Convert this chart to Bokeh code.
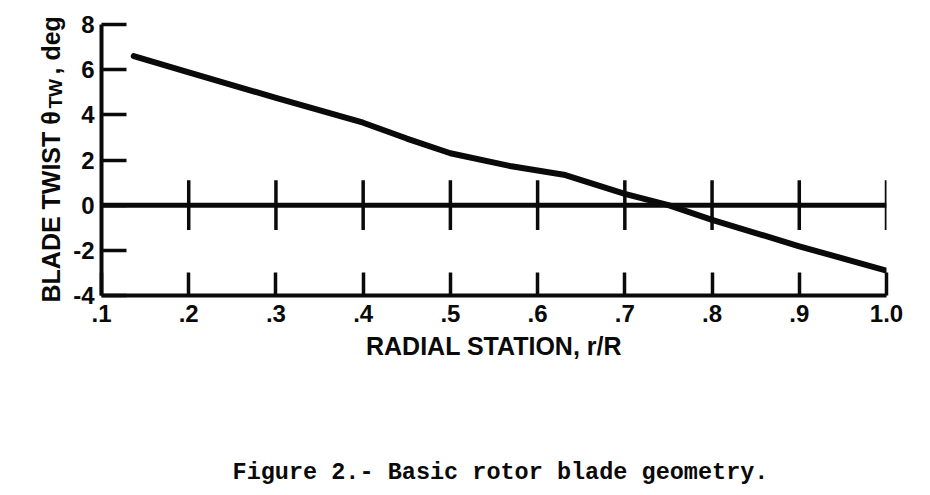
import math
from bokeh.plotting import figure
from bokeh.models import Range1d, FixedTicker, Span, Label
from bokeh.embed import file_html
from bokeh.resources import INLINE

# ---- data ----
r_R = [0.137, 0.2, 0.3, 0.4, 0.45, 0.5, 0.57, 0.63, 0.7, 0.75, 0.8, 0.9, 1.0]
twist_deg = [6.6, 5.88, 4.75, 3.65, 2.95, 2.3, 1.72, 1.35, 0.5, 0.0, -0.65, -1.82, -2.9]

x_ticks = [0.1, 0.2, 0.3, 0.4, 0.5, 0.6, 0.7, 0.8, 0.9, 1.0]
x_tick_labels = [".1", ".2", ".3", ".4", ".5", ".6", ".7", ".8", ".9", "1.0"]
y_ticks = [-4, -2, 0, 2, 4, 6, 8]
y_tick_labels = ["-4", "-2", "0", "2", "4", "6", "8"]
cross_ticks = x_ticks[1:]

x_label = "RADIAL STATION, r/R"
y_label_main = "BLADE TWIST \u03b8"
y_label_sub = "TW"
y_label_tail = ", deg"
caption = "Figure 2.- Basic rotor blade geometry."

FONT = "Liberation Sans"
INK = "#0a0a0a"

W, H = 930, 495
BL, BR, BT, BB = 101, 44, 24, 200
X0, X1, Y0, Y1 = 0.1, 1.0, -4.0, 8.0

p = figure(width=W, height=H, output_backend="svg", toolbar_location=None,
           x_range=Range1d(X0, X1), y_range=Range1d(Y0, Y1),
           min_border_left=BL, min_border_right=BR,
           min_border_top=BT, min_border_bottom=BB)
p.grid.visible = False
p.outline_line_color = None
p.background_fill_color = "white"
p.border_fill_color = "white"

# canvas pixel -> data coordinates (text placed outside the frame)
FW, FH = W - BL - BR, H - BT - BB
def px2data(px, py):
    return X0 + (px - BL) * (X1 - X0) / FW, Y0 + (H - BB - py) * (Y1 - Y0) / FH

xa = p.xaxis[0]
ya = p.yaxis[0]
xa.ticker = FixedTicker(ticks=x_ticks)
ya.ticker = FixedTicker(ticks=y_ticks)
xa.major_label_overrides = {t: l for t, l in zip(x_ticks, x_tick_labels)}
ya.major_label_overrides = {t: l for t, l in zip(y_ticks, y_tick_labels)}
for ax in (xa, ya):
    ax.axis_line_width = 4
    ax.axis_line_color = INK
    ax.major_tick_line_width = 3.5
    ax.major_tick_line_color = INK
    ax.major_tick_out = 0
    ax.minor_tick_line_color = None
    ax.major_label_text_font = FONT
    ax.major_label_text_font_style = "bold"
    ax.major_label_text_font_size = "24px"
    ax.major_label_text_color = INK
xa.major_tick_in = 23
ya.major_tick_in = 25
xa.major_label_standoff = 9
ya.major_label_standoff = 7
xa.axis_label = x_label
xa.axis_label_text_font = FONT
xa.axis_label_text_font_style = "bold"
xa.axis_label_text_font_size = "25px"
xa.axis_label_text_color = INK
xa.axis_label_standoff = 7

# zero reference line with cross ticks
p.add_layout(Span(location=0, dimension="width", line_width=5, line_color=INK))
p.segment(x0=cross_ticks, y0=[-1.1] * len(cross_ticks), x1=cross_ticks,
          y1=[1.1] * len(cross_ticks), line_width=3.5, line_color=INK)

# twist distribution
p.line(r_R, twist_deg, line_width=6, line_color=INK, line_join="round", line_cap="round")

def add_text(px, py, text, size, angle=0.0, align="left", font=FONT, place="left"):
    x, y = px2data(px, py)
    p.add_layout(Label(x=x, y=y, text=text, angle=angle, text_align=align,
                       text_baseline="alphabetic", text_font=font,
                       text_font_style="bold", text_font_size=size, text_color=INK), place)

# y axis label (rotated, with subscript); side panels chosen only so that
# the frame keeps its size -- positions are absolute data coordinates
rot = math.pi / 2
add_text(50, 302, y_label_main, "25px", rot, place="left")
add_text(55, 108, y_label_sub, "19px", rot, place="right")
add_text(50, 74, y_label_tail, "25px", rot, place="left")

# caption
add_text(500, 472, caption, "23.5px", 0.0, "center", "Liberation Mono", place="below")

open("out.html", "w").write(file_html(p, INLINE))
